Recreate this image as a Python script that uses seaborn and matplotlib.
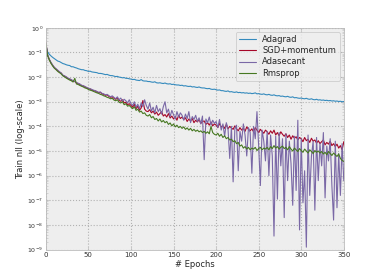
import numpy as np
import pandas as pd
import seaborn as sns
import matplotlib
matplotlib.use('Agg')
import matplotlib.pyplot as plt
from matplotlib.ticker import LogLocator, NullFormatter

# --- data: log10(train nll), one value every 2 epochs ---
epochs = list(range(0, 351, 2))

adagrad = [
    -0.70, -0.97, -1.07, -1.14, -1.20, -1.25, -1.30, -1.35, -1.37, -1.41,
    -1.45, -1.47, -1.50, -1.52, -1.53, -1.58, -1.58, -1.61, -1.63, -1.66,
    -1.68, -1.70, -1.70, -1.73, -1.74, -1.77, -1.76, -1.79, -1.80, -1.81,
    -1.82, -1.85, -1.85, -1.86, -1.88, -1.90, -1.89, -1.92, -1.94, -1.94,
    -1.96, -1.98, -1.97, -2.00, -2.01, -2.03, -2.02, -2.05, -2.05, -2.07,
    -2.08, -2.10, -2.09, -2.12, -2.13, -2.14, -2.10, -2.15, -2.16, -2.16,
    -2.18, -2.18, -2.20, -2.21, -2.19, -2.23, -2.24, -2.23, -2.25, -2.26,
    -2.24, -2.27, -2.28, -2.27, -2.30, -2.29, -2.31, -2.32, -2.32, -2.34,
    -2.33, -2.36, -2.35, -2.37, -2.38, -2.37, -2.40, -2.39, -2.41, -2.42,
    -2.40, -2.43, -2.44, -2.44, -2.46, -2.47, -2.46, -2.49, -2.50, -2.49,
    -2.51, -2.53, -2.52, -2.55, -2.55, -2.57, -2.58, -2.56, -2.60, -2.59,
    -2.61, -2.62, -2.60, -2.63, -2.62, -2.64, -2.63, -2.65, -2.64, -2.66,
    -2.65, -2.67, -2.66, -2.64, -2.68, -2.67, -2.69, -2.70, -2.68, -2.71,
    -2.72, -2.70, -2.73, -2.74, -2.72, -2.75, -2.76, -2.75, -2.78, -2.77,
    -2.79, -2.80, -2.78, -2.81, -2.82, -2.80, -2.84, -2.83, -2.85, -2.86,
    -2.85, -2.87, -2.88, -2.86, -2.89, -2.90, -2.88, -2.91, -2.92, -2.90,
    -2.93, -2.92, -2.94, -2.93, -2.95, -2.94, -2.96, -2.95, -2.97, -2.96,
    -2.98, -2.97, -2.99, -2.98, -3.00, -2.99,
]

sgd_momentum = [
    -0.58, -1.10, -1.28, -1.42, -1.52, -1.62, -1.68, -1.74, -1.80, -1.84,
    -1.93, -1.96, -2.00, -2.06, -2.08, -2.12, -2.17, -2.18, -2.24, -2.26,
    -2.30, -2.35, -2.36, -2.40, -2.43, -2.47, -2.48, -2.52, -2.55, -2.56,
    -2.60, -2.63, -2.62, -2.68, -2.70, -2.74, -2.72, -2.78, -2.82, -2.80,
    -2.86, -2.90, -2.84, -2.95, -2.98, -2.92, -3.05, -3.02, -3.12, -3.08,
    -3.15, -3.22, -3.10, -3.28, -3.18, -3.35, -3.25, -2.95, -3.30, -3.38,
    -3.40, -3.32, -3.45, -3.38, -3.50, -3.42, -3.55, -3.48, -3.40, -3.58,
    -3.52, -3.62, -3.48, -3.66, -3.58, -3.70, -3.60, -3.75, -3.55, -3.68,
    -3.62, -3.72, -3.65, -3.80, -3.70, -3.78, -3.68, -3.85, -3.75, -3.82,
    -3.72, -3.88, -3.80, -3.78, -3.92, -3.85, -3.95, -3.82, -3.98, -3.90,
    -3.95, -4.05, -3.88, -4.02, -3.98, -4.08, -3.92, -4.10, -4.00, -4.06,
    -4.12, -3.98, -4.10, -4.18, -4.05, -4.15, -4.08, -4.20, -4.02, -4.12,
    -4.18, -4.10, -4.22, -4.05, -4.15, -4.25, -4.12, -4.20, -4.28, -4.15,
    -4.22, -4.32, -4.18, -4.28, -4.15, -4.35, -4.25, -4.38, -4.22, -4.32,
    -4.40, -4.30, -4.45, -4.35, -4.52, -4.38, -4.48, -4.42, -4.55, -4.45,
    -4.50, -4.62, -4.45, -4.58, -4.52, -4.65, -4.48, -4.60, -4.55, -4.68,
    -4.58, -4.70, -4.62, -4.55, -4.75, -4.65, -4.72, -4.60, -4.78, -4.70,
    -4.82, -4.72, -4.88, -4.78, -4.95, -4.62,
]

adasecant = [
    -0.60, -1.08, -1.27, -1.40, -1.51, -1.60, -1.66, -1.72, -1.78, -1.83,
    -1.92, -1.95, -1.99, -2.04, -2.07, -2.10, -2.15, -2.17, -2.22, -2.25,
    -2.28, -2.33, -2.35, -2.38, -2.42, -2.45, -2.47, -2.50, -2.53, -2.55,
    -2.58, -2.62, -2.60, -2.66, -2.68, -2.72, -2.70, -2.75, -2.80, -2.76,
    -2.82, -2.88, -2.80, -2.92, -2.85, -2.98, -2.90, -2.96, -3.05, -2.92,
    -3.08, -3.15, -3.00, -3.22, -3.10, -3.28, -3.05, -3.20, -2.92, -3.15,
    -3.30, -3.05, -3.38, -3.22, -3.45, -3.15, -3.40, -3.28, -3.50, -3.20,
    -3.00, -3.45, -3.30, -3.60, -3.35, -3.52, -3.70, -3.40, -3.62, -3.45,
    -3.55, -3.75, -3.50, -3.68, -3.40, -3.85, -3.60, -3.72, -3.55, -3.80,
    -3.65, -3.90, -3.58, -5.35, -3.70, -3.85, -3.62, -3.95, -3.75, -3.88,
    -3.80, -4.05, -3.72, -4.15, -3.90, -4.40, -3.85, -4.10, -5.30, -4.00,
    -6.25, -4.10, -3.95, -5.80, -4.20, -4.60, -3.90, -4.35, -5.20, -4.05,
    -4.25, -5.90, -4.00, -4.50, -3.40, -4.80, -6.40, -4.15, -4.60, -5.40,
    -4.20, -6.00, -4.35, -5.20, -8.45, -4.40, -6.95, -4.25, -5.60, -4.50,
    -7.70, -4.30, -6.20, -4.60, -5.50, -7.20, -4.40, -6.60, -3.75, -8.20,
    -4.50, -7.10, -5.80, -8.90, -4.35, -6.80, -5.20, -4.60, -7.40, -4.45,
    -6.20, -4.70, -5.60, -4.25, -6.90, -4.80, -5.40, -4.50, -6.40, -7.80,
    -4.60, -7.30, -5.10, -6.80, -4.70, -6.20,
]

rmsprop = [
    -0.62, -1.12, -1.30, -1.44, -1.55, -1.64, -1.70, -1.77, -1.82, -1.87,
    -1.95, -1.99, -2.04, -2.08, -2.12, -2.15, -2.20, -2.05, -2.28, -2.30,
    -2.34, -2.37, -2.40, -2.44, -2.46, -2.50, -2.53, -2.55, -2.58, -2.61,
    -2.64, -2.66, -2.70, -2.72, -2.76, -2.78, -2.82, -2.84, -2.88, -2.86,
    -2.93, -2.96, -2.92, -3.02, -3.05, -3.00, -3.12, -3.08, -3.18, -3.15,
    -3.22, -3.28, -3.20, -3.35, -3.30, -3.42, -3.38, -3.48, -3.45, -3.55,
    -3.58, -3.52, -3.65, -3.60, -3.72, -3.68, -3.78, -3.70, -3.82, -3.76,
    -3.85, -3.80, -3.92, -3.86, -3.98, -3.90, -4.02, -3.95, -4.05, -4.00,
    -4.08, -4.02, -4.12, -4.06, -4.15, -4.08, -4.18, -4.12, -4.20, -4.15,
    -4.22, -4.18, -4.25, -4.20, -4.28, -4.22, -4.30, -4.00, -4.25, -4.32,
    -4.35, -4.28, -4.40, -4.32, -4.45, -4.38, -4.50, -4.45, -4.55, -4.52,
    -4.62, -4.58, -4.70, -4.65, -4.80, -4.75, -4.88, -4.82, -4.92, -4.85,
    -4.95, -4.88, -4.92, -4.85, -4.98, -4.90, -4.85, -4.95, -4.88, -4.92,
    -4.85, -4.95, -4.82, -4.90, -4.78, -4.88, -4.82, -4.92, -4.85, -4.80,
    -4.90, -4.85, -4.95, -4.82, -4.92, -5.00, -4.88, -4.95, -5.02, -4.90,
    -4.98, -5.05, -4.92, -5.00, -5.08, -4.95, -5.02, -5.10, -4.98, -5.05,
    -5.00, -5.08, -5.02, -5.12, -5.05, -5.15, -5.02, -5.10, -5.18, -5.08,
    -5.15, -5.22, -5.12, -5.30, -5.38, -5.42,
]

methods = ['Adagrad', 'SGD+momentum', 'Adasecant', 'Rmsprop']
colors = ['#348ABD', '#A60628', '#7A68A6', '#467821']

# long format for seaborn
frames = []
for name, vals in zip(methods, [adagrad, sgd_momentum, adasecant, rmsprop]):
    frames.append(pd.DataFrame({'epoch': epochs,
                                'nll': 10.0 ** np.array(vals),
                                'method': name}))
df = pd.concat(frames, ignore_index=True)

# bmh-like look
sns.set_theme(style='darkgrid', rc={
    'axes.facecolor': '#eeeeee',
    'axes.edgecolor': '#bcbcbc',
    'axes.linewidth': 0.6,
    'grid.color': '#b2b2b2',
    'grid.linestyle': ':',
    'grid.linewidth': 0.8,
    'xtick.direction': 'in',
    'ytick.direction': 'in',
    'xtick.top': True,
    'ytick.right': True,
    'xtick.bottom': True,
    'ytick.left': True,
    'xtick.major.size': 2.5,
    'ytick.major.size': 2.5,
    'ytick.minor.size': 1.2,
    'xtick.major.width': 0.5,
    'ytick.major.width': 0.5,
    'ytick.minor.width': 0.4,
    'xtick.color': '#bcbcbc',
    'ytick.color': '#bcbcbc',
    'xtick.labelcolor': '#333333',
    'ytick.labelcolor': '#333333',
})
plt.rcParams['font.family'] = ['DejaVu Sans']

fig, ax = plt.subplots(figsize=(3.82, 2.78), dpi=100)
fig.patch.set_facecolor('white')
fig.subplots_adjust(left=0.12, right=0.90, bottom=0.102, top=0.90)

sns.lineplot(data=df, x='epoch', y='nll', hue='method', hue_order=methods,
             palette=dict(zip(methods, colors)), linewidth=0.8, ax=ax,
             estimator=None, sort=False)

ax.set_yscale('log')
ax.set_ylim(1e-9, 1)
ax.set_xlim(0, 350)
ax.set_xticks(range(0, 351, 50))
ax.yaxis.set_major_locator(LogLocator(base=10, numticks=12))
ax.yaxis.set_minor_locator(LogLocator(base=10, subs=np.arange(2, 10), numticks=12))
ax.yaxis.set_minor_formatter(NullFormatter())
ax.grid(True, which='major')
ax.grid(False, which='minor')
ax.tick_params(axis='x', labelsize=5, pad=2)
ax.tick_params(axis='y', labelsize=4.5, pad=2)

ax.set_xlabel('# Epochs', fontsize=6, labelpad=1)
ax.set_ylabel('Train nll (log-scale)', fontsize=6, labelpad=1)

for s in ax.spines.values():
    s.set_visible(True)
    s.set_color('#bcbcbc')

leg = ax.legend(loc='upper right', fontsize=6, frameon=True, fancybox=True,
                handlelength=2.0, borderpad=0.4, labelspacing=0.25,
                handletextpad=0.8)
leg.get_frame().set_facecolor('#eeeeee')
leg.get_frame().set_edgecolor('#bcbcbc')
leg.get_frame().set_linewidth(0.5)

fig.savefig('out.png', dpi=100)
